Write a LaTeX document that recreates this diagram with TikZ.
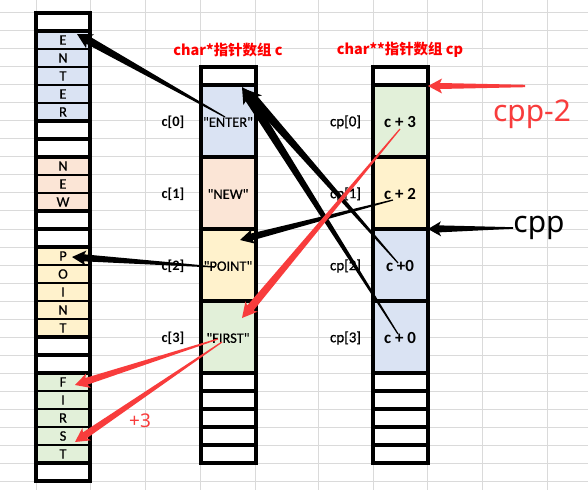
\documentclass[tikz,border=0pt]{standalone}
\usepackage{fontspec}
\setmainfont{Carlito}
\newfontfamily\carm{Carlito}[FakeBold=0.6]
\newfontfamily\cjk{Noto Sans CJK SC}
\newfontfamily\noto{Noto Sans}
\usetikzlibrary{calc}
\newcommand{\sq}{\symbol{34}}
\definecolor{gridc}{HTML}{DADADA}
\definecolor{cblue}{HTML}{DAE3F3}
\definecolor{corange}{HTML}{FBE5D6}
\definecolor{cyellow}{HTML}{FFF2CC}
\definecolor{cgreen}{HTML}{E2F0D9}
\definecolor{ared}{HTML}{F83C3C}
\definecolor{tred}{HTML}{FF0000}
\tikzset{
  thickb/.style={line width=4bp},
  thinb/.style={line width=1.2bp},
  letter/.style={font=\carm\fontsize{14.5}{14}\selectfont, inner sep=0},
  clabel/.style={font=\fontsize{14.5}{14}\selectfont\bfseries, inner sep=0},
  cplabel/.style={font=\carm\fontsize{15}{14}\selectfont, inner sep=0},
  ctext/.style={font=\carm\fontsize{14.5}{14}\selectfont, inner sep=0},
  cptext/.style={font=\fontsize{17}{17}\selectfont\bfseries, inner sep=0},
  titlet/.style={font=\cjk\fontsize{14.5}{15}\selectfont\bfseries, text=tred, inner sep=0},
  bigt/.style={font=\noto\fontsize{30}{30}\selectfont, inner sep=0},
}
% color, tail, tip, tail half-w, shaft half-w, head length, head half-w
\newcommand{\qqarr}[7]{%
  \path ($(#3)!#6!(#2)$) coordinate (qqH);
  \path ($(qqH)!2bp!(#3)$) coordinate (qqN);
  \fill[#1] ($(#2)!#4!90:(#3)$) -- ($(qqN)!#5!90:(#3)$) -- ($(qqH)!#7!90:(#3)$) -- (#3)
    -- ($(qqH)!#7!-90:(#3)$) -- ($(qqN)!#5!-90:(#3)$) -- ($(#2)!#4!-90:(#3)$) -- cycle;
}
\begin{document}
\begin{tikzpicture}[x=1bp,y=-1bp]
\useasboundingbox (0,0) rectangle (588,490);
\fill[white] (0,0) rectangle (588,490);
% spreadsheet grid
\foreach \x in {36,90,145.5,200.5,255.5,318,373,427.5,482.5,547.5}
  \draw[gridc, line width=1bp] (\x,0) -- (\x,490);
\foreach \k in {0,...,26}
  \draw[gridc, line width=1bp] (0,13+18*\k) -- (588,13+18*\k);

% ---------- left column (memory) ----------
\fill[white] (36,13) rectangle (90,481);
\fill[cblue] (36,31) rectangle (90,121);
\fill[corange] (36,157) rectangle (90,211);
\fill[cyellow] (36,247) rectangle (90,337);
\fill[cgreen] (36,373) rectangle (90,463);
\foreach \y in {49,67,85,103,175,193,265,283,301,319,391,409,427,445}
  \draw[thinb] (36,\y) -- (90,\y);
\foreach \y in {31,121,139,157,211,229,247,337,355,373,463}
  \draw[thickb] (36,\y) -- (90,\y);
\draw[thickb] (36,13) rectangle (90,481);
\foreach \t/\y/\n in {E/40/m1,N/58/m2,T/76/m3,E/94/m4,R/112/m5,
                      N/166/m6,E/184/m7,W/202/m8,
                      P/256/m9,O/274/m10,I/292/m11,N/310/m12,T/328/m13,
                      F/382/m14,I/400/m15,R/418/m16,S/436/m17,T/454/m18}
  \node[letter] (\n) at (63,\y) {\t};

% ---------- middle column c ----------
\fill[white] (200.5,67) rectangle (255.5,463);
\fill[cblue] (200.5,85) rectangle (255.5,157);
\fill[corange] (200.5,157) rectangle (255.5,229);
\fill[cyellow] (200.5,229) rectangle (255.5,301);
\fill[cgreen] (200.5,301) rectangle (255.5,373);
\foreach \y in {85,157,229,301,373,391,409,427,445}
  \draw[thickb] (200.5,\y) -- (255.5,\y);
\draw[thickb] (200.5,67) rectangle (255.5,463);
\node[titlet] (tc) at (228,50) {char*指针数组 c};
\node[clabel] (lc0) at (173,122) {c[0]};
\node[clabel] (lc1) at (173,194) {c[1]};
\node[clabel] (lc2) at (173,266) {c[2]};
\node[clabel] (lc3) at (173,338) {c[3]};
\node[ctext] (c0) at (228,122) {\sq ENTER\sq};
\node[ctext] (c1) at (228,194) {\sq NEW\sq};
\node[ctext] (c2) at (228,266) {\sq POINT\sq};
\node[ctext] (c3) at (228,338) {\sq FIRST\sq};

% ---------- right column cp ----------
\fill[white] (373,67) rectangle (427.5,463);
\fill[cgreen] (373,85) rectangle (427.5,157);
\fill[cyellow] (373,157) rectangle (427.5,229);
\fill[cblue] (373,229) rectangle (427.5,373);
\foreach \y in {85,157,229,301,373,391,409,427,445}
  \draw[thickb] (373,\y) -- (427.5,\y);
\draw[thickb] (373,67) rectangle (427.5,463);
\node[titlet] (tcp) at (400,50) {char**指针数组 cp};
\node[cplabel] (lp0) at (345.5,122) {cp[0]};
\node[cplabel] (lp1) at (345.5,194) {cp[1]};
\node[cplabel] (lp2) at (345.5,266) {cp[2]};
\node[cplabel] (lp3) at (345.5,338) {cp[3]};
\node[cptext] (p0) at (400,122) {c + 3};
\node[cptext] (p1) at (400,194) {c + 2};
\node[cptext] (p2) at (400,266) {c +0};
\node[cptext] (p3) at (400,338) {c + 0};

% ---------- free texts ----------
\node[bigt, text=ared] (cpp2) at (532,114) {cpp-2};
\node[bigt, text=black] (cpp) at (539,228) {cpp};
\node[font=\noto\fontsize{19}{19}\selectfont, text=ared, inner sep=0] (plus3) at (140,421) {+3};

% ---------- arrow end points ----------
\coordinate (t1) at (225,117); \coordinate (h1) at (77,34);
\coordinate (t2) at (215,267); \coordinate (h2) at (72,257);
\coordinate (t3) at (393,200); \coordinate (h3) at (240,240);
\coordinate (t4) at (398,263); \coordinate (h4) at (245,89);
\coordinate (t5) at (398,334); \coordinate (h5) at (242,87);
\coordinate (t6) at (513,228); \coordinate (h6) at (428,229);
\coordinate (t7) at (400,129); \coordinate (h7) at (242,318);
\coordinate (t8) at (218,339); \coordinate (h8) at (75,385);
\coordinate (t9) at (222,342); \coordinate (h9) at (75,442);
\coordinate (t10) at (525,86); \coordinate (h10) at (428,86);

% ---------- arrows ----------
\qqarr{black}{t1}{h1}{0.6bp}{4bp}{15bp}{8bp}
\qqarr{black}{t2}{h2}{0.6bp}{3.5bp}{14bp}{7.5bp}
\qqarr{black}{t3}{h3}{0.6bp}{3.5bp}{14bp}{7.5bp}
\qqarr{black}{t4}{h4}{0.6bp}{4.5bp}{16bp}{8.5bp}
\qqarr{black}{t5}{h5}{0.6bp}{4.5bp}{16bp}{8.5bp}
\qqarr{black}{t6}{h6}{0.8bp}{3.5bp}{13bp}{7.5bp}
\qqarr{ared}{t7}{h7}{0.6bp}{4bp}{15bp}{8bp}
\qqarr{ared}{t8}{h8}{0.6bp}{3.5bp}{14bp}{7.5bp}
\qqarr{ared}{t9}{h9}{0.6bp}{3.5bp}{14bp}{7.5bp}
\qqarr{ared}{t10}{h10}{1.2bp}{3bp}{14bp}{7.5bp}
\end{tikzpicture}
\end{document}
